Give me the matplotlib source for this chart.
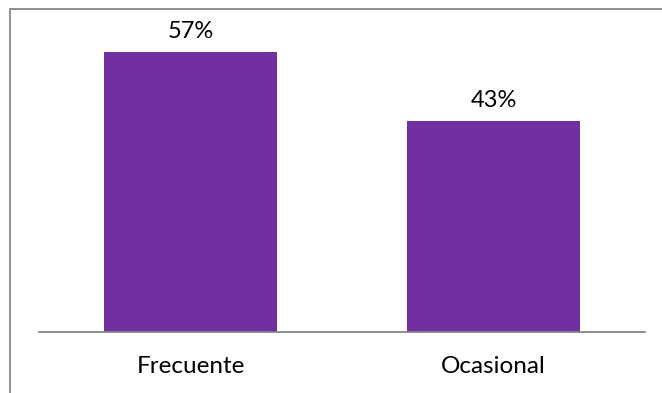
import matplotlib
matplotlib.use("Agg")
import matplotlib.pyplot as plt
from matplotlib.patches import Rectangle

categories = ["Frecuente", "Ocasional"]
values = [57, 43]
labels = ["57%", "43%"]

W, H = 662, 393
fig = plt.figure(figsize=(W / 100, H / 100), dpi=100)
plt.rcParams['font.family'] = ['Lato', 'DejaVu Sans']

# outer border (extends past right/bottom edge)
fig.patches.append(Rectangle((9.5 / W, -0.1), 1.2, 1.1 - 9 / H + 0.0,
                             transform=fig.transFigure, fill=False,
                             edgecolor='#878787', linewidth=1.3))

ax_left, ax_right = 39 / W, 645 / W
ax_bottom = (H - 332) / H
ymax = 60
px_per_unit = (332 - 52.3) / 57
ax_top = (H - (332 - ymax * px_per_unit)) / H
ax = fig.add_axes([ax_left, ax_bottom, ax_right - ax_left, ax_top - ax_bottom])

x = list(range(len(categories)))
bars = ax.bar(x, values, width=0.571, color='#7030A0')
ax.set_xlim(-0.5, 1.5)
ax.set_ylim(0, ymax)

for b, lab in zip(bars, labels):
    ax.annotate(lab, (b.get_x() + b.get_width() / 2, b.get_height()),
                xytext=(0, 10), textcoords='offset points',
                ha='center', va='baseline', fontsize=17, color='black')

ax.set_xticks(x)
ax.set_xticklabels(categories, fontsize=17.5)
ax.tick_params(axis='x', length=0, pad=17.5)
ax.set_yticks([])
for s in ['top', 'right', 'left']:
    ax.spines[s].set_visible(False)
ax.spines['bottom'].set_color('#868686')
ax.spines['bottom'].set_linewidth(1.3)
ax.patch.set_alpha(0)

fig.savefig('out.png', dpi=100)
